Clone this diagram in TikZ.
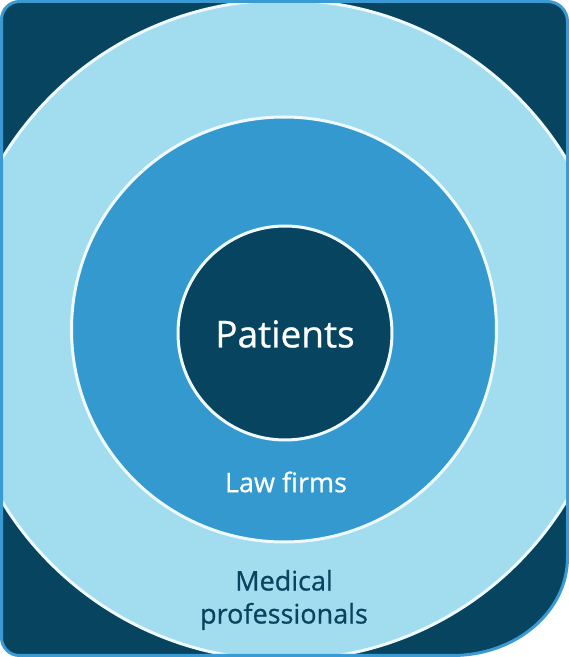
\documentclass[tikz,border=0pt]{standalone}
\usepackage{fontspec}
\setmainfont{Open Sans}
\newfontfamily\semi{Open Sans}[FakeBold=0.7]
\definecolor{navy}{HTML}{07445F}
\definecolor{light}{HTML}{A2DCEF}
\definecolor{mid}{HTML}{3399CF}
\definecolor{edge}{HTML}{3A9AD4}
\definecolor{ring}{HTML}{EEFAFF}
\tikzset{
  ringline/.style={draw=ring, line width=3pt},
  lbl/.style={font=\semi\fontsize{27}{33}\selectfont, align=center, inner sep=0pt}
}
\begin{document}
\begin{tikzpicture}[x=1pt,y=1pt]
\useasboundingbox (0,0) rectangle (569,657);
\def\outline{(19.5,655.5) -- (547.5,655.5) arc[start angle=90,end angle=0,radius=20] -- (567.5,99.5) arc[start angle=0,end angle=-90,x radius=115,y radius=98] -- (19.5,1.5) arc[start angle=270,end angle=180,radius=18] -- (1.5,637.5) arc[start angle=180,end angle=90,radius=18] -- cycle}
\fill[navy] \outline;
\begin{scope}
  \clip \outline;
  \filldraw[fill=light, ringline] (284,327) circle[radius=330];
  \filldraw[fill=mid, ringline] (284,327.5) circle[radius=212.5];
  \filldraw[fill=navy, ringline] (285,324) circle[radius=107];
\end{scope}
\draw[edge, line width=3pt] \outline;
\node[lbl, text=white, font=\semi\fontsize{37}{40}\selectfont] (patients) at (285,323) {Patients};
\node[lbl, text=white] (law) at (286,175) {Law firms};
\node[lbl, text=navy] (med) at (284,57) {Medical\\professionals};
\end{tikzpicture}
\end{document}
